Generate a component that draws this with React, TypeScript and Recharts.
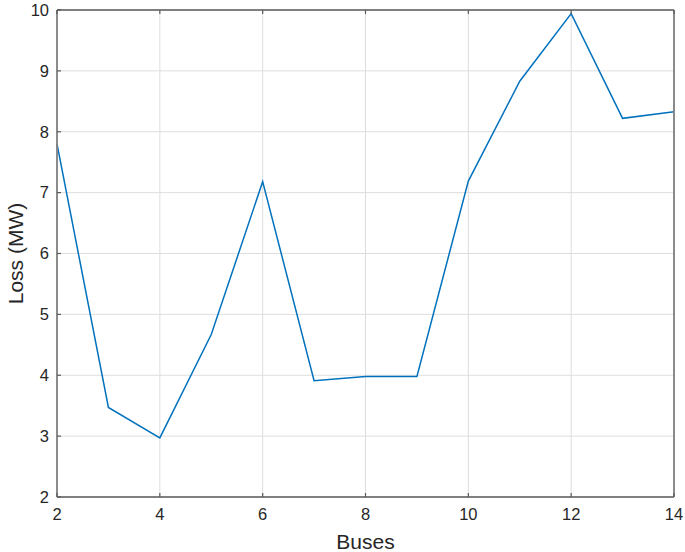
import React from "react";
import { LineChart, Line, XAxis, YAxis, CartesianGrid, Label } from "recharts";

const buses = [2, 3, 4, 5, 6, 7, 8, 9, 10, 11, 12, 13, 14];
const loss = [7.8, 3.47, 2.97, 4.67, 7.18, 3.91, 3.98, 3.98, 7.19, 8.83, 9.94, 8.22, 8.33];
const xTicks = [2, 4, 6, 8, 10, 12, 14];
const yTicks = [2, 3, 4, 5, 6, 7, 8, 9, 10];

const data = buses.map((b, i) => ({ bus: b, loss: loss[i] }));

const FONT = '"Liberation Sans", Arial, Helvetica, sans-serif';
const AXIS = "#808080";
const TICK = "#5a5a5a";
const TEXT = "#262626";
const TL = 4;
const FS = 16.5;

const BottomTick = (p: any) => {
  const { x, y, payload } = p;
  const ay = y - 11;
  return (
    <g>
      <line x1={x} x2={x} y1={ay} y2={ay - TL} stroke={TICK} strokeWidth={1.2} />
      <text x={x} y={y} dy="0.71em" textAnchor="middle" fill={TEXT} fontSize={FS} fontFamily={FONT}>
        {payload.value}
      </text>
    </g>
  );
};

const TopTick = (p: any) => {
  const { x, y } = p;
  return <line x1={x} x2={x} y1={y} y2={y + TL} stroke={TICK} strokeWidth={1.2} />;
};

const LeftTick = (p: any) => {
  const { x, y, payload } = p;
  const ax = x + 8;
  return (
    <g>
      <line x1={ax} x2={ax + TL} y1={y} y2={y} stroke={TICK} strokeWidth={1.2} />
      <text x={x} y={y} dy="0.355em" textAnchor="end" fill={TEXT} fontSize={FS} fontFamily={FONT}>
        {payload.value}
      </text>
    </g>
  );
};

const RightTick = (p: any) => {
  const { x, y } = p;
  return <line x1={x} x2={x - TL} y1={y} y2={y} stroke={TICK} strokeWidth={1.2} />;
};

export default function App() {
  return (
    <div style={{ position: "absolute", left: 0, top: 0 }}>
      <LineChart width={685} height={552} data={data} margin={{ top: 9, right: 10, bottom: 0, left: 0 }}>
        <CartesianGrid xAxisId="b" yAxisId="l" stroke="#dedede" strokeWidth={1} />
        <XAxis
          xAxisId="b"
          dataKey="bus"
          type="number"
          domain={[2, 14]}
          ticks={xTicks}
          interval={0}
          height={55}
          tickSize={0}
          tickMargin={11}
          tick={<BottomTick />}
          axisLine={{ stroke: AXIS, strokeWidth: 1.8 }}
          tickLine={false}
        >
          <Label value="Buses" position="insideBottom" offset={3} style={{ fill: TEXT, fontSize: 21, fontFamily: FONT }} />
        </XAxis>
        <XAxis
          xAxisId="t"
          orientation="top"
          dataKey="bus"
          type="number"
          domain={[2, 14]}
          ticks={xTicks}
          interval={0}
          height={1}
          tickSize={0}
          tickMargin={0}
          tick={<TopTick />}
          axisLine={{ stroke: AXIS, strokeWidth: 1.8 }}
          tickLine={false}
        />
        <YAxis
          yAxisId="l"
          type="number"
          domain={[2, 10]}
          ticks={yTicks}
          interval={0}
          width={57}
          tickSize={0}
          tickMargin={8}
          tick={<LeftTick />}
          axisLine={{ stroke: AXIS, strokeWidth: 1.8 }}
          tickLine={false}
        >
          <Label
            value="Loss (MW)"
            angle={-90}
            position="insideLeft"
            offset={16}
            style={{ fill: TEXT, fontSize: 21, fontFamily: FONT, textAnchor: "middle" }}
          />
        </YAxis>
        <YAxis
          yAxisId="r"
          orientation="right"
          type="number"
          domain={[2, 10]}
          ticks={yTicks}
          interval={0}
          width={1}
          tickSize={0}
          tickMargin={0}
          tick={<RightTick />}
          axisLine={{ stroke: AXIS, strokeWidth: 1.8 }}
          tickLine={false}
        />
        <Line
          xAxisId="b"
          yAxisId="l"
          type="linear"
          dataKey="loss"
          stroke="#0072BD"
          strokeWidth={1.5}
          dot={false}
          activeDot={false}
          isAnimationActive={false}
        />
      </LineChart>
    </div>
  );
}
